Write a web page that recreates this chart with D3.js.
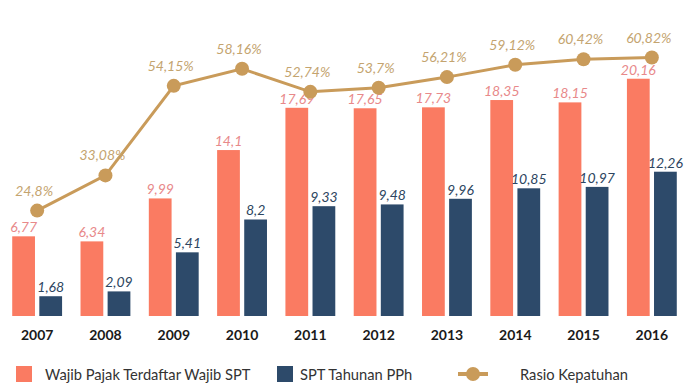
<!DOCTYPE html>
<html>
<head>
<meta charset="utf-8">
<script src="https://cdn.jsdelivr.net/npm/d3@7"></script>
<style>
  body { margin: 0; background: #fff; }
  text { font-family: Lato, "Open Sans", sans-serif; }
</style>
</head>
<body>
<svg id="chart" width="693" height="383"></svg>
<script>
/* data */
var years = ["2007", "2008", "2009", "2010", "2011", "2012", "2013", "2014", "2015", "2016"];
var wajibPajak = [6.77, 6.34, 9.99, 14.1, 17.69, 17.65, 17.73, 18.35, 18.15, 20.16];
var sptTahunan = [1.68, 2.09, 5.41, 8.2, 9.33, 9.48, 9.96, 10.85, 10.97, 12.26];
var rasio = [24.8, 33.08, 54.15, 58.16, 52.74, 53.7, 56.21, 59.12, 60.42, 60.82];
var seriesNames = ["Wajib Pajak Terdaftar Wajib SPT", "SPT Tahunan PPh", "Rasio Kepatuhan"];

var fmt = function(v) { return String(v).replace(".", ","); };

var colOrange = "#fa7b62", colBlue = "#2d4a6a", colGold = "#c99b5a";

var svg = d3.select("#chart");
var baseline = 316, plotTop = 10;

var x = d3.scaleBand()
    .domain(years)
    .range([3, 686])
    .paddingInner(0.27)
    .paddingOuter(0.135);

var xSub = d3.scaleBand()
    .domain(["a", "b"])
    .range([0, x.bandwidth()])
    .paddingInner(0.16);

var y = d3.scaleLinear().domain([0, 26]).range([baseline, plotTop]);
var y2 = d3.scaleLinear().domain([0, 72]).range([baseline, plotTop]);

var data = years.map(function(yr, i) {
  return {year: yr, a: wajibPajak[i], b: sptTahunan[i], r: rasio[i]};
});

/* bars */
var g = svg.append("g");
var groups = g.selectAll(".grp")
  .data(data)
  .enter().append("g")
    .attr("transform", function(d) { return "translate(" + x(d.year) + ",0)"; });

groups.append("rect")
    .attr("x", xSub("a"))
    .attr("y", function(d) { return y(d.a); })
    .attr("width", xSub.bandwidth())
    .attr("height", function(d) { return baseline - y(d.a); })
    .attr("fill", colOrange);

groups.append("rect")
    .attr("x", xSub("b"))
    .attr("y", function(d) { return y(d.b); })
    .attr("width", xSub.bandwidth())
    .attr("height", function(d) { return baseline - y(d.b); })
    .attr("fill", colBlue);

groups.append("text")
    .attr("x", xSub("a") + xSub.bandwidth() / 2)
    .attr("y", function(d) { return y(d.a) - 4; })
    .attr("text-anchor", "middle")
    .style("font-size", "14px")
    .style("font-style", "italic")
    .attr("fill", "#e8898a")
    .text(function(d) { return fmt(d.a); });

groups.append("text")
    .attr("x", xSub("b") + xSub.bandwidth() / 2)
    .attr("y", function(d) { return y(d.b) - 4; })
    .attr("text-anchor", "middle")
    .style("font-size", "14px")
    .style("font-style", "italic")
    .attr("fill", "#2d4560")
    .text(function(d) { return fmt(d.b); });

/* x axis labels */
var xAxis = svg.append("g")
    .attr("transform", "translate(0," + (baseline + 6) + ")")
    .call(d3.axisBottom(x).tickSize(0).tickPadding(8));
xAxis.select(".domain").remove();
xAxis.selectAll("text")
    .style("font-family", "Lato, sans-serif")
    .style("font-size", "14px")
    .style("font-weight", "bold")
    .attr("fill", "#1a1a1a");

/* line */
var cx = function(d) { return x(d.year) + x.bandwidth() / 2; };
var line = d3.line()
    .x(cx)
    .y(function(d) { return y2(d.r); });

svg.append("path")
    .datum(data)
    .attr("d", line)
    .attr("fill", "none")
    .attr("stroke", colGold)
    .attr("stroke-width", 3);

svg.selectAll(".dot")
  .data(data)
  .enter().append("circle")
    .attr("cx", cx)
    .attr("cy", function(d) { return y2(d.r); })
    .attr("r", 7)
    .attr("fill", colGold);

svg.selectAll(".rlabel")
  .data(data)
  .enter().append("text")
    .attr("x", function(d) { return cx(d) - 3; })
    .attr("y", function(d) { return y2(d.r) - 15; })
    .attr("text-anchor", "middle")
    .style("font-size", "14px")
    .style("font-style", "italic")
    .attr("fill", "#c4a46f")
    .text(function(d) { return fmt(d.r) + "%"; });

/* legend */
var leg = svg.append("g").style("font-size", "14.7px");
leg.append("rect").attr("x", 16).attr("y", 366).attr("width", 16).attr("height", 16).attr("fill", colOrange);
leg.append("text").attr("x", 45).attr("y", 380).attr("fill", "#333").text(seriesNames[0]);
leg.append("rect").attr("x", 277).attr("y", 366).attr("width", 16).attr("height", 16).attr("fill", colBlue);
leg.append("text").attr("x", 300).attr("y", 380).attr("fill", "#333").text(seriesNames[1]);
leg.append("line").attr("x1", 458).attr("x2", 488).attr("y1", 374).attr("y2", 374)
    .attr("stroke", colGold).attr("stroke-width", 4);
leg.append("circle").attr("cx", 473).attr("cy", 374).attr("r", 7).attr("fill", colGold);
leg.append("text").attr("x", 520).attr("y", 380).attr("fill", "#333").text(seriesNames[2]);
</script>
</body>
</html>
